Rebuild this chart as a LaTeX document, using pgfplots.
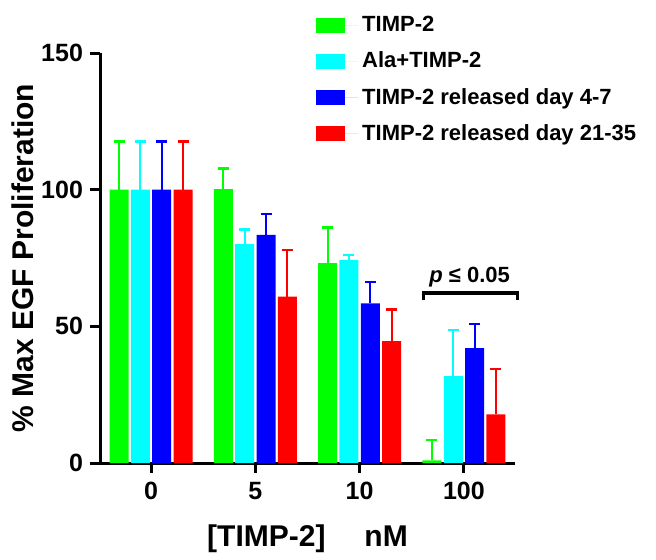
\documentclass[border=0pt]{standalone}
\usepackage{pgfplots}
\pgfplotsset{compat=1.18}
\usepackage{pgfplotstable}
\usepackage{fontspec}
\setmainfont{Liberation Sans}
\definecolor{cgreen}{RGB}{0,255,0}
\definecolor{ccyan}{RGB}{0,255,255}
\definecolor{cblue}{RGB}{0,0,255}
\definecolor{cred}{RGB}{255,0,0}
\pgfplotstableread{
x  g     ge    c     ce    b     be    r     re
0  100   17.6  100   17.6  100   17.6  100   17.6
1  100.2 7.6   80.1  5.3   83.5  7.5   60.9  17.0
2  73.1  13.1  74.3  1.8   58.4  7.9   44.6  11.6
3  1.0   7.4   31.8  16.9  42.0  8.9   17.8  16.7
}\datatable
\begin{document}
\begin{tikzpicture}
\begin{axis}[
  scale only axis,
  width=207.5pt, height=205pt,
  xmin=-0.49, xmax=3.49,
  ymin=0, ymax=150,
  ytick={0,50,100,150},
  xtick={0,1,2,3},
  xticklabels={0,5,10,100},
  axis x line*=bottom,
  axis y line*=left,
  axis line style={-, line width=1.5pt},
  tick align=outside,
  major tick length=5pt,
  every tick/.style={black, line width=1.5pt},
  tick label style={font=\bfseries\fontsize{12.5}{14}\selectfont},
  xticklabel style={yshift=-1pt},
  /pgf/number format/assume math mode=true,
  ybar=1.15pt,
  bar width=9.5pt,
  clip=false,
  ylabel={\bfseries\fontsize{15}{17}\selectfont \% Max EGF Proliferation},
  ylabel style={yshift=-3pt},
  xlabel={\bfseries\fontsize{15}{17}\selectfont [TIMP-2]\hspace{1.3em}nM},
  xlabel style={yshift=-5.5pt},
  legend cell align=left,
  legend style={draw=none, fill=none, at={(rel axis cs:0.52,1.1)}, anchor=north west,
     inner sep=0pt, row sep=4.6pt, font=\bfseries\fontsize{11}{13}\selectfont},
  legend image code/.code={\fill[#1] (0pt,-3.75pt) rectangle (14.5pt,3.75pt);
     \path (0pt,0pt) -- (21pt,0pt);},
  error bars/y dir=plus,
  error bars/y explicit,
]
\addplot[fill=cgreen, draw=none, error bars/error bar style={cgreen, line width=1pt},
  error bars/error mark options={cgreen, rotate=90, mark size=2.75pt, line width=1.2pt}]
  table[x=x, y=g, y error=ge]{\datatable};
\addlegendentry{TIMP-2}
\addplot[fill=ccyan, draw=none, error bars/error bar style={ccyan, line width=1pt},
  error bars/error mark options={ccyan, rotate=90, mark size=2.75pt, line width=1.2pt}]
  table[x=x, y=c, y error=ce]{\datatable};
\addlegendentry{Ala+TIMP-2}
\addplot[fill=cblue, draw=none, error bars/error bar style={cblue, line width=1pt},
  error bars/error mark options={cblue, rotate=90, mark size=2.75pt, line width=1.2pt}]
  table[x=x, y=b, y error=be]{\datatable};
\addlegendentry{TIMP-2 released day 4-7}
\addplot[fill=cred, draw=none, error bars/error bar style={cred, line width=1pt},
  error bars/error mark options={cred, rotate=90, mark size=2.75pt, line width=1.2pt}]
  table[x=x, y=r, y error=re]{\datatable};
\addlegendentry{TIMP-2 released day 21-35}
\draw[line width=1.6pt] (axis cs:2.615,59.5) -- (axis cs:2.615,62.2) -- (axis cs:3.51,62.2) -- (axis cs:3.51,59.5);
\node[anchor=base, font=\bfseries\fontsize{11}{13}\selectfont] at (axis cs:3.055,65.9) {\textit{p} ≤ 0.05};
\coordinate (O) at (rel axis cs:0,0);
\end{axis}
\path (O) ++(-50pt,-48pt) rectangle ++(328pt,279.5pt);
\end{tikzpicture}
\end{document}
